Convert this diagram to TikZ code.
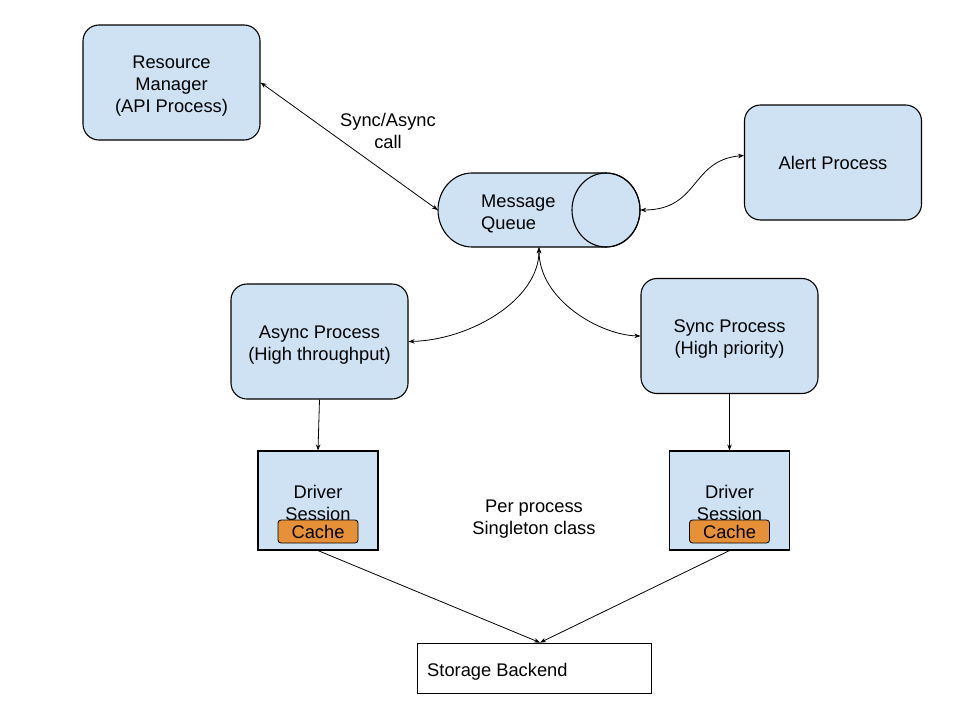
\documentclass[tikz,border=0pt]{standalone}
\usepackage{fontspec}
\setmainfont{Liberation Sans}
\usetikzlibrary{arrows.meta,calc}
\definecolor{boxblue}{HTML}{CFE2F3}
\definecolor{cacheorange}{HTML}{E69138}
\newcommand\mytopstrut{\rule{0pt}{19pt}}
\begin{document}
\begin{tikzpicture}[x=1pt,y=-1pt,
  every node/.style={font=\fontsize{18.3}{22}\selectfont},
  procbox/.style={draw=black,line width=1.1pt,fill=boxblue,rounded corners=16pt,
    minimum width=177pt,minimum height=115pt,align=center,inner sep=0pt},
  drvbox/.style={draw=black,line width=1.1pt,fill=boxblue,
    minimum width=120pt,minimum height=99pt,inner sep=0pt},
  cachebox/.style={draw=black,line width=0.8pt,fill=cacheorange,rounded corners=3pt,
    minimum width=80pt,minimum height=23pt,inner sep=0pt},
  plain/.style={align=center,inner sep=0pt},
  link/.style={line width=0.8pt,draw=black,>={Stealth[length=6pt,width=4.5pt]}}
]
\path[use as bounding box] (0,0) rectangle (960,720);

% process boxes
\node[procbox] (rm) at (171.5,82.5) {\mytopstrut Resource\\Manager\\(API Process)};
\node[procbox] (alert) at (833,162.5) {Alert Process};
\node[procbox] (async) at (319.5,341.5) {\mytopstrut Async Process\\(High throughput)};
\node[procbox] (sync) at (729.5,336) {\mytopstrut Sync Process\\(High priority)};

% message queue (horizontal cylinder)
\node[minimum width=202pt,minimum height=74pt,inner sep=0pt] (mq) at (539,210) {};
\filldraw[fill=boxblue,draw=black,line width=1.1pt]
  (606,173) -- (472,173) arc[start angle=90,end angle=270,x radius=34pt,y radius=37pt]
  -- (606,247) arc[start angle=270,end angle=450,x radius=34pt,y radius=37pt] -- cycle;
\draw[black,line width=1.1pt] (606,210) ellipse[x radius=34pt,y radius=37pt];
\node[plain,align=left,anchor=west] (mqtext) at (481,214) {Message\\Queue};

% driver sessions
\node[drvbox] (drvl) at (318,500.5) {};
\node[plain] (drvltext) at (318,503) {Driver\\Session};
\node[cachebox] (cachel) at (318,531.5) {Cache};
\node[drvbox] (drvr) at (729.5,500.5) {};
\node[plain] (drvrtext) at (729.5,503) {Driver\\Session};
\node[cachebox] (cacher) at (729.5,531.5) {Cache};

% storage
\node[draw=black,line width=0.8pt,fill=white,minimum width=234pt,minimum height=50pt,
  inner sep=0pt] (store) at (534,668) {};
\node[plain,anchor=west] (storetext) at (427,672) {Storage Backend};

% labels
\node[plain] (calllbl) at (388,131) {Sync/Async\\call};
\node[plain] (singlbl) at (534,519) {Per process\\Singleton class};

% connectors
\draw[link,<->] (rm.east) -- (mq.west);
\draw[link,<->] ([yshift=7pt]alert.west) .. controls (690,160) and (700,210) .. (mq.east);
\draw[link,<->] (mq.south) .. controls (539,300) and (470,340) .. (async.east);
\draw[link,<->] (mq.south) .. controls (539,300) and (600,335) .. (sync.west);
\draw[link,->] (async.south) -- (drvl.north);
\draw[link,->] (sync.south) -- (drvr.north);
\draw[link,->] (drvl.south) -- ([xshift=6pt]store.north);
\draw[link,->] (drvr.south) -- ([xshift=6pt]store.north);
\end{tikzpicture}
\end{document}
